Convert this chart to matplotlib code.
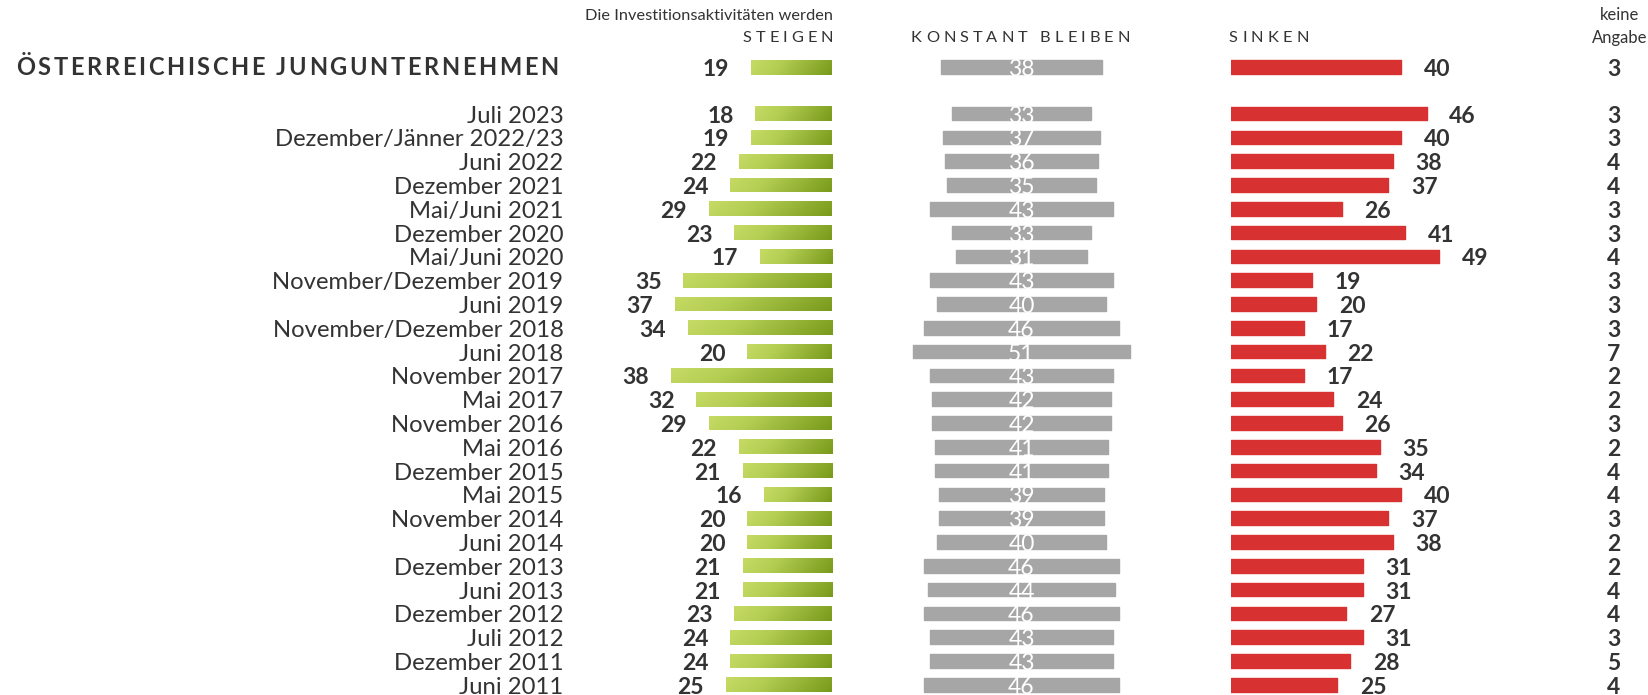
import matplotlib
matplotlib.use("Agg")
import matplotlib.pyplot as plt
import numpy as np
from matplotlib.colors import LinearSegmentedColormap

plt.rcParams['font.family'] = ['Lato', 'DejaVu Sans']

# ---------------- data ----------------
total_label = "ÖSTERREICHISCHE JUNGUNTERNEHMEN"
total_steigen = 19
total_konstant = 38
total_sinken = 40
total_keine = 3

categories = ["Juli 2023", "Dezember/Jänner 2022/23", "Juni 2022", "Dezember 2021",
              "Mai/Juni 2021", "Dezember 2020", "Mai/Juni 2020", "November/Dezember 2019",
              "Juni 2019", "November/Dezember 2018", "Juni 2018", "November 2017",
              "Mai 2017", "November 2016", "Mai 2016", "Dezember 2015", "Mai 2015",
              "November 2014", "Juni 2014", "Dezember 2013", "Juni 2013",
              "Dezember 2012", "Juli 2012", "Dezember 2011", "Juni 2011"]
steigen = [18, 19, 22, 24, 29, 23, 17, 35, 37, 34, 20, 38, 32, 29, 22, 21, 16, 20, 20,
           21, 21, 23, 24, 24, 25]
konstant = [33, 37, 36, 35, 43, 33, 31, 43, 40, 46, 51, 43, 42, 42, 41, 41, 39, 39, 40,
            46, 44, 46, 43, 43, 46]
sinken = [46, 40, 38, 37, 26, 41, 49, 19, 20, 17, 22, 17, 24, 26, 35, 34, 40, 37, 38,
          31, 31, 27, 31, 28, 25]
keine = [3, 3, 4, 4, 3, 3, 4, 3, 3, 3, 7, 2, 2, 3, 2, 4, 4, 3, 2, 2, 4, 4, 3, 5, 4]

header_intro = "Die Investitionsaktivitäten werden"
header_steigen = "STEIGEN"
header_konstant = "KONSTANT BLEIBEN"
header_sinken = "SINKEN"
header_keine_1 = "keine"
header_keine_2 = "Angabe"

# ---------------- layout ----------------
W, H = 1649, 695
fig = plt.figure(figsize=(W / 100, H / 100), dpi=100)
fig.patch.set_facecolor("white")

PX = 4.24          # pixels per percentage point
ROW = 23.8         # pixels per row
Y0 = 113.6         # pixel y of first data row
TOTAL_ROW = -1.95  # row position of the total
ylim = ((H - Y0) / ROW, -Y0 / ROW)

def row_of(px):
    return (px - Y0) / ROW

TXT = "#333333"
GREEN_L, GREEN_M, GREEN_D = "#c6db65", "#b3cd52", "#789a1b"
GREY = "#a6a6a6"
RED = "#d83131"
FS = 16.5
LFS = 17.2
BAR_H = 14.7 / ROW
BASE = 9.0  # baseline offset below row center, px

rows = np.arange(len(categories))
all_rows = np.concatenate([[TOTAL_ROW], rows])
all_st = [total_steigen] + steigen
all_ko = [total_konstant] + konstant
all_si = [total_sinken] + sinken
all_ke = [total_keine] + keine

def make_ax(left_px, xmin, xmax):
    w = (xmax - xmin) * PX
    ax = fig.add_axes([left_px / W, 0, w / W, 1])
    ax.set_xlim(xmin, xmax)
    ax.set_ylim(*ylim)
    ax.axis("off")
    return ax

# overlay text axis (x in pixels, y in rows)
ax_t = fig.add_axes([0, 0, 1, 1])
ax_t.set_xlim(0, W)
ax_t.set_ylim(*ylim)
ax_t.axis("off")

# steigen axis: right edge at 831.8 px, inverted
S_RIGHT = 831.8
ax_s = make_ax(S_RIGHT - 50 * PX, 0, 50)
ax_s.set_xlim(50, 0)
cmap = LinearSegmentedColormap.from_list("g", [(0, GREEN_L), (0.35, GREEN_M), (1, GREEN_D)])
gx = np.linspace(0, 1, 200)
gy = np.linspace(0, 1, 20)
GX, GY = np.meshgrid(gx, gy)
grad = np.clip(0.88 * GX + 0.12 * GY, 0, 1)
bars = ax_s.barh(all_rows, all_st, height=BAR_H, color="none", edgecolor="none")
for b, v, r in zip(bars, all_st, all_rows):
    im = ax_s.imshow(grad, cmap=cmap, extent=(v, 0, r + BAR_H / 2, r - BAR_H / 2),
                     aspect="auto", interpolation="bilinear", origin="upper", zorder=2)
    im.set_clip_path(b)
    ax_s.annotate(str(v), (v, r), xytext=(-35, -BASE), textcoords="offset pixels",
                  ha="center", va="baseline", fontsize=FS, fontweight="bold", color=TXT)
ax_s.set_xlim(50, 0)
ax_s.set_ylim(*ylim)

# konstant axis: centered at 1021.5 px
K_C = 1021.5
ax_k = make_ax(K_C - 30 * PX, -30, 30)
ax_k.barh(all_rows, all_ko, left=[-v / 2 for v in all_ko], height=BAR_H - 1.0 / ROW,
          color=GREY, edgecolor=GREY, linewidth=1.0, joinstyle="round")
for v, r in zip(all_ko, all_rows):
    ax_k.annotate(str(v), (0, r), xytext=(0, -BASE), textcoords="offset pixels",
                  ha="center", va="baseline", fontsize=FS, color="white")

# sinken axis: left edge at 1231.5 px
ax_r = make_ax(1231.5, 0, 60)
ax_r.barh(all_rows, all_si, height=BAR_H - 1.0 / ROW, color=RED, edgecolor=RED,
          linewidth=1.0, joinstyle="round")
for v, r in zip(all_si, all_rows):
    ax_r.annotate(str(v), (v, r), xytext=(36, -BASE), textcoords="offset pixels",
                  ha="center", va="baseline", fontsize=FS, fontweight="bold", color=TXT)

# category labels and keine angabe
for lab, r in zip(categories, rows):
    ax_t.annotate(lab, (563.5, r), xytext=(0, -BASE), textcoords="offset pixels",
                  ha="right", va="baseline", fontsize=LFS, color=TXT)
for v, r in zip(all_ke, all_rows):
    ax_t.annotate(str(v), (1614, r), xytext=(0, -BASE), textcoords="offset pixels",
                  ha="center", va="baseline", fontsize=FS, fontweight="bold", color=TXT)

# letter-spaced text helper
renderer = fig.canvas.get_renderer()

def text_w(s, **kw):
    t = ax_t.text(0, 0, s, **kw)
    w = t.get_window_extent(renderer).width
    t.remove()
    return w

def char_adv(ch, **kw):
    return text_w("|" + ch + "|", **kw) - text_w("||", **kw)

def spaced(x0, x1, y, s, **kw):
    advs = [char_adv(c, **kw) for c in s]
    last = text_w(s[-1], **kw)
    natural = sum(advs[:-1]) + last
    sp = (x1 - x0 - natural) / (len(s) - 1)
    x = x0
    for c, a in zip(s, advs):
        ax_t.text(x, y, c, ha="left", va="center", **kw)
        x += a + sp

spaced(16, 558, TOTAL_ROW, total_label, fontsize=17, fontweight="bold", color=TXT)

HFS = 11.8
ax_t.text(833, row_of(15.5), header_intro, ha="right", va="center", fontsize=HFS, color=TXT)
spaced(743, 833, row_of(38.5), header_steigen, fontsize=HFS, color=TXT)
spaced(911, 1130, row_of(38.5), header_konstant, fontsize=HFS, color=TXT)
spaced(1229, 1309, row_of(38.5), header_sinken, fontsize=HFS, color=TXT)
ax_t.text(1620, row_of(15.5), header_keine_1, ha="center", va="center", fontsize=12, color=TXT)
ax_t.text(1620, row_of(38.5), header_keine_2, ha="center", va="center", fontsize=12, color=TXT)

fig.savefig("out.png", dpi=100, facecolor="white")
